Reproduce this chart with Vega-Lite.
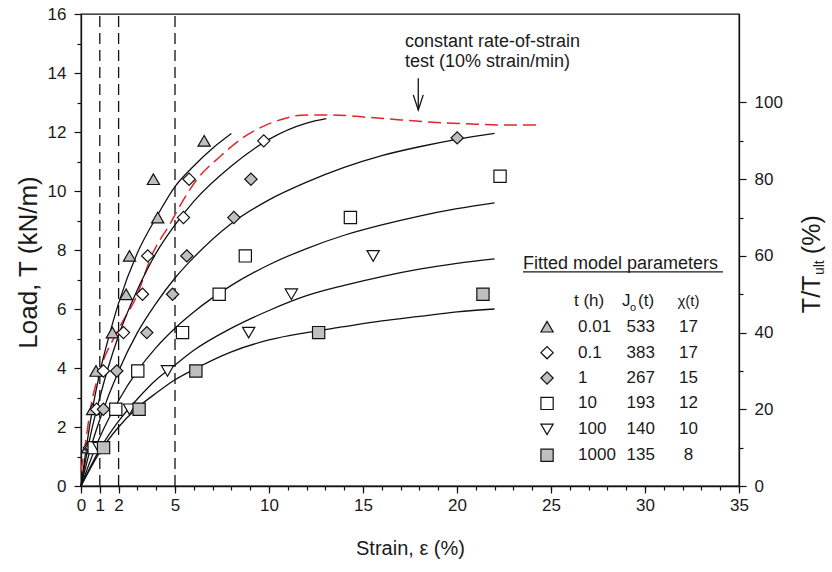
{
  "$schema": "https://vega.github.io/schema/vega-lite/v6.json",
  "width": 658,
  "height": 472,
  "autosize": {"type": "none"},
  "padding": {"left": 81, "top": 14, "right": 93, "bottom": 86},
  "background": "white",
  "config": {
    "font": "Liberation Sans",
    "view": {"stroke": "#111111", "strokeWidth": 1.3},
    "axis": {
      "domainColor": "#111111", "domainWidth": 1.3, "tickColor": "#111111", "tickWidth": 1.2,
      "labelColor": "#1a1a1a", "titleColor": "#1a1a1a", "labelFont": "Liberation Sans", "titleFont": "Liberation Sans",
      "labelFontSize": 17, "titleFontSize": 20, "titleFontWeight": "normal", "grid": false,
      "labelOverlap": false, "labelFlush": false, "labelBound": false
    }
  },
  "datasets": {
    "red": [
      {"x": 0, "y": 0.5}, {"x": 0.2, "y": 1.3}, {"x": 0.5, "y": 2.6}, {"x": 1.0, "y": 3.9}, {"x": 1.9, "y": 5.2},
      {"x": 3.0, "y": 6.5}, {"x": 3.75, "y": 7.8}, {"x": 4.75, "y": 8.9}, {"x": 5.45, "y": 9.7}, {"x": 6.15, "y": 10.38},
      {"x": 7.4, "y": 11.17}, {"x": 8.6, "y": 11.8}, {"x": 9.9, "y": 12.25}, {"x": 10.8, "y": 12.45}, {"x": 11.7, "y": 12.57},
      {"x": 13.4, "y": 12.58}, {"x": 15.2, "y": 12.5}, {"x": 17.0, "y": 12.41}, {"x": 18.7, "y": 12.33}, {"x": 20.5, "y": 12.28},
      {"x": 22.3, "y": 12.24}, {"x": 24.2, "y": 12.24}
    ],
    "curves": [
      {"t": "0.01", "x": 0, "y": 0}, {"t": "0.01", "x": 0.5, "y": 2.2}, {"t": "0.01", "x": 1, "y": 3.85}, {"t": "0.01", "x": 1.5, "y": 5.1},
      {"t": "0.01", "x": 2, "y": 6.2}, {"t": "0.01", "x": 3, "y": 7.9}, {"t": "0.01", "x": 4, "y": 9.1}, {"t": "0.01", "x": 5, "y": 10.15},
      {"t": "0.01", "x": 6, "y": 10.85}, {"t": "0.01", "x": 7, "y": 11.45}, {"t": "0.01", "x": 8, "y": 11.95},
      {"t": "0.1", "x": 0, "y": 0}, {"t": "0.1", "x": 0.5, "y": 1.7}, {"t": "0.1", "x": 1, "y": 3.0}, {"t": "0.1", "x": 2, "y": 5.1},
      {"t": "0.1", "x": 3, "y": 6.65}, {"t": "0.1", "x": 4, "y": 7.9}, {"t": "0.1", "x": 5, "y": 8.85}, {"t": "0.1", "x": 6, "y": 9.65},
      {"t": "0.1", "x": 8, "y": 10.85}, {"t": "0.1", "x": 10, "y": 11.75}, {"t": "0.1", "x": 12, "y": 12.3}, {"t": "0.1", "x": 13.05, "y": 12.45},
      {"t": "1", "x": 0, "y": 0}, {"t": "1", "x": 0.5, "y": 1.25}, {"t": "1", "x": 1, "y": 2.25}, {"t": "1", "x": 2, "y": 3.9},
      {"t": "1", "x": 3, "y": 5.2}, {"t": "1", "x": 4, "y": 6.2}, {"t": "1", "x": 5, "y": 7.05}, {"t": "1", "x": 6, "y": 7.75},
      {"t": "1", "x": 8, "y": 8.9}, {"t": "1", "x": 10, "y": 9.7}, {"t": "1", "x": 12, "y": 10.3}, {"t": "1", "x": 14, "y": 10.8},
      {"t": "1", "x": 16, "y": 11.2}, {"t": "1", "x": 18, "y": 11.5}, {"t": "1", "x": 20, "y": 11.75}, {"t": "1", "x": 22, "y": 11.95},
      {"t": "10", "x": 0, "y": 0}, {"t": "10", "x": 1, "y": 1.65}, {"t": "10", "x": 2, "y": 2.9}, {"t": "10", "x": 3, "y": 3.9},
      {"t": "10", "x": 4, "y": 4.7}, {"t": "10", "x": 5, "y": 5.35}, {"t": "10", "x": 6, "y": 5.9}, {"t": "10", "x": 8, "y": 6.8},
      {"t": "10", "x": 10, "y": 7.5}, {"t": "10", "x": 12, "y": 8.05}, {"t": "10", "x": 14, "y": 8.5}, {"t": "10", "x": 16, "y": 8.85},
      {"t": "10", "x": 18, "y": 9.15}, {"t": "10", "x": 20, "y": 9.4}, {"t": "10", "x": 22, "y": 9.6},
      {"t": "100", "x": 0, "y": 0}, {"t": "100", "x": 1, "y": 1.25}, {"t": "100", "x": 2, "y": 2.2}, {"t": "100", "x": 3, "y": 2.95},
      {"t": "100", "x": 4, "y": 3.6}, {"t": "100", "x": 5, "y": 4.1}, {"t": "100", "x": 6, "y": 4.6}, {"t": "100", "x": 8, "y": 5.35},
      {"t": "100", "x": 10, "y": 5.95}, {"t": "100", "x": 12, "y": 6.45}, {"t": "100", "x": 14, "y": 6.8}, {"t": "100", "x": 16, "y": 7.1},
      {"t": "100", "x": 18, "y": 7.35}, {"t": "100", "x": 20, "y": 7.55}, {"t": "100", "x": 22, "y": 7.7},
      {"t": "1000", "x": 0, "y": 0}, {"t": "1000", "x": 1, "y": 1.15}, {"t": "1000", "x": 2, "y": 2.0}, {"t": "1000", "x": 3, "y": 2.65},
      {"t": "1000", "x": 4, "y": 3.15}, {"t": "1000", "x": 5, "y": 3.6}, {"t": "1000", "x": 6, "y": 3.95}, {"t": "1000", "x": 8, "y": 4.55},
      {"t": "1000", "x": 10, "y": 4.95}, {"t": "1000", "x": 12, "y": 5.2}, {"t": "1000", "x": 14, "y": 5.4}, {"t": "1000", "x": 16, "y": 5.6},
      {"t": "1000", "x": 18, "y": 5.75}, {"t": "1000", "x": 20, "y": 5.9}, {"t": "1000", "x": 22, "y": 6.0}
    ],
    "pts": [
      {"t": "0.01", "x": 0.35, "y": 1.3}, {"t": "0.01", "x": 0.62, "y": 2.6}, {"t": "0.01", "x": 0.8, "y": 3.9}, {"t": "0.01", "x": 1.67, "y": 5.2},
      {"t": "0.01", "x": 2.4, "y": 6.5}, {"t": "0.01", "x": 2.58, "y": 7.8}, {"t": "0.01", "x": 4.08, "y": 9.1}, {"t": "0.01", "x": 3.85, "y": 10.4},
      {"t": "0.01", "x": 6.55, "y": 11.7},
      {"t": "0.1", "x": 0.45, "y": 1.3}, {"t": "0.1", "x": 0.83, "y": 2.6}, {"t": "0.1", "x": 1.19, "y": 3.9}, {"t": "0.1", "x": 2.26, "y": 5.2},
      {"t": "0.1", "x": 3.27, "y": 6.5}, {"t": "0.1", "x": 3.55, "y": 7.8}, {"t": "0.1", "x": 5.45, "y": 9.1}, {"t": "0.1", "x": 5.75, "y": 10.4},
      {"t": "0.1", "x": 9.72, "y": 11.7},
      {"t": "1", "x": 0.55, "y": 1.3}, {"t": "1", "x": 1.19, "y": 2.6}, {"t": "1", "x": 1.9, "y": 3.9}, {"t": "1", "x": 3.5, "y": 5.2},
      {"t": "1", "x": 4.87, "y": 6.5}, {"t": "1", "x": 5.63, "y": 7.8}, {"t": "1", "x": 8.13, "y": 9.1}, {"t": "1", "x": 9.04, "y": 10.4},
      {"t": "1", "x": 20.01, "y": 11.8},
      {"t": "10", "x": 0.7, "y": 1.3}, {"t": "10", "x": 1.85, "y": 2.6}, {"t": "10", "x": 3.02, "y": 3.9}, {"t": "10", "x": 5.4, "y": 5.2},
      {"t": "10", "x": 7.35, "y": 6.5}, {"t": "10", "x": 8.74, "y": 7.8}, {"t": "10", "x": 14.33, "y": 9.1}, {"t": "10", "x": 22.29, "y": 10.5},
      {"t": "100", "x": 0.95, "y": 1.3}, {"t": "100", "x": 2.58, "y": 2.6}, {"t": "100", "x": 4.6, "y": 3.9}, {"t": "100", "x": 8.92, "y": 5.2},
      {"t": "100", "x": 11.19, "y": 6.5}, {"t": "100", "x": 15.54, "y": 7.8},
      {"t": "1000", "x": 1.2, "y": 1.3}, {"t": "1000", "x": 3.09, "y": 2.6}, {"t": "1000", "x": 6.11, "y": 3.9}, {"t": "1000", "x": 12.64, "y": 5.2},
      {"t": "1000", "x": 21.38, "y": 6.5}
    ],
    "leg": [
      {"t": "0.01", "J": "533", "chi": "17", "ly": 5.4},
      {"t": "0.1", "J": "383", "chi": "17", "ly": 4.52},
      {"t": "1", "J": "267", "chi": "15", "ly": 3.66},
      {"t": "10", "J": "193", "chi": "12", "ly": 2.8},
      {"t": "100", "J": "140", "chi": "10", "ly": 1.92},
      {"t": "1000", "J": "135", "chi": "8", "ly": 1.04}
    ],
    "vlines": [{"x": 1}, {"x": 2}, {"x": 5}]
  },
  "layer": [
    {
      "layer": [
        {
          "data": {"name": "vlines"},
          "mark": {"type": "rule", "color": "#111111", "strokeWidth": 1.3, "strokeDash": [11, 6]},
          "encoding": {
            "x": {
              "field": "x", "type": "quantitative",
              "scale": {"domain": [0, 35], "nice": false, "zero": false},
              "axis": {
                "orient": "bottom",
                "values": [0, 1, 2, 5, 10, 15, 20, 25, 30, 35],
                "tickSize": 7,
                "labelPadding": 4,
                "title": "Strain, ε (%)",
                "titleBaseline": "middle",
                "titleY": 62
              }
            },
            "y": {
              "datum": 0, "type": "quantitative",
              "scale": {"domain": [0, 16], "nice": false, "zero": false},
              "axis": {
                "orient": "left",
                "values": [0, 2, 4, 6, 8, 10, 12, 14, 16],
                "tickSize": 7,
                "labelPadding": 8,
                "title": "Load, T (kN/m)",
                "titleFontSize": 26,
                "titleAngle": 270,
                "titleBaseline": "middle",
                "titleX": -53,
                "titleY": 248
              }
            },
            "y2": {"datum": 16}
          }
        },
        {
          "data": {"name": "red"},
          "mark": {"type": "line", "color": "#e3242b", "strokeWidth": 1.5, "strokeDash": [13, 6], "interpolate": "monotone"},
          "encoding": {
            "x": {"field": "x", "type": "quantitative"},
            "y": {"field": "y", "type": "quantitative"}
          }
        },
        {
          "data": {"name": "curves"},
          "mark": {"type": "line", "color": "#111111", "strokeWidth": 1.3, "interpolate": "monotone"},
          "encoding": {
            "x": {"field": "x", "type": "quantitative"},
            "y": {"field": "y", "type": "quantitative"},
            "detail": {"field": "t", "type": "nominal"}
          }
        },
        {
          "data": {"name": "pts"},
          "mark": {"type": "point", "filled": true, "stroke": "#111111", "strokeWidth": 1.2, "size": 150, "opacity": 1},
          "encoding": {
            "x": {"field": "x", "type": "quantitative"},
            "y": {"field": "y", "type": "quantitative"},
            "shape": {"field": "t", "type": "nominal", "legend": null,
              "scale": {"domain": ["0.01","0.1","1","10","100","1000"], "range": ["triangle-up","diamond","diamond","square","triangle-down","square"]}},
            "fill": {"field": "t", "type": "nominal", "legend": null,
              "scale": {"domain": ["0.01","0.1","1","10","100","1000"], "range": ["#bfbfbf","#ffffff","#bfbfbf","#ffffff","#ffffff","#bfbfbf"]}}
          }
        },
        {
          "data": {"name": "leg"},
          "mark": {"type": "point", "filled": true, "stroke": "#111111", "strokeWidth": 1.2, "size": 150, "opacity": 1},
          "encoding": {
            "x": {"datum": 24.79, "type": "quantitative"},
            "y": {"field": "ly", "type": "quantitative"},
            "shape": {"field": "t", "type": "nominal", "legend": null},
            "fill": {"field": "t", "type": "nominal", "legend": null}
          }
        },
        {
          "data": {"name": "leg"},
          "mark": {"type": "text", "align": "left", "baseline": "middle", "fontSize": 17, "color": "#1a1a1a"},
          "encoding": {
            "x": {"datum": 26.44, "type": "quantitative"},
            "y": {"field": "ly", "type": "quantitative"},
            "text": {"field": "t"}
          }
        },
        {
          "data": {"name": "leg"},
          "mark": {"type": "text", "align": "center", "baseline": "middle", "fontSize": 17, "color": "#1a1a1a"},
          "encoding": {
            "x": {"datum": 29.77, "type": "quantitative"},
            "y": {"field": "ly", "type": "quantitative"},
            "text": {"field": "J"}
          }
        },
        {
          "data": {"name": "leg"},
          "mark": {"type": "text", "align": "center", "baseline": "middle", "fontSize": 17, "color": "#1a1a1a"},
          "encoding": {
            "x": {"datum": 32.31, "type": "quantitative"},
            "y": {"field": "ly", "type": "quantitative"},
            "text": {"field": "chi"}
          }
        },
        {
          "data": {"values": [{}]},
          "mark": {"type": "text", "align": "left", "baseline": "middle", "fontSize": 18, "color": "#1a1a1a"},
          "encoding": {
            "x": {"datum": 23.51, "type": "quantitative"},
            "y": {"datum": 7.54, "type": "quantitative"},
            "text": {"value": "Fitted model parameters"}
          }
        },
        {
          "data": {"values": [{}]},
          "mark": {"type": "rule", "color": "#1a1a1a", "strokeWidth": 1.2},
          "encoding": {
            "x": {"datum": 23.51, "type": "quantitative"},
            "x2": {"datum": 34.15},
            "y": {"datum": 7.26, "type": "quantitative"}
          }
        },
        {
          "data": {"values": [{}]},
          "mark": {"type": "text", "align": "left", "baseline": "middle", "fontSize": 17, "color": "#1a1a1a"},
          "encoding": {
            "x": {"datum": 26.22, "type": "quantitative"},
            "y": {"datum": 6.26, "type": "quantitative"},
            "text": {"value": "t (h)"}
          }
        },
        {
          "data": {"values": [{}]},
          "mark": {"type": "text", "align": "left", "baseline": "middle", "fontSize": 17, "color": "#1a1a1a"},
          "encoding": {
            "x": {"datum": 28.78, "type": "quantitative"},
            "y": {"datum": 6.26, "type": "quantitative"},
            "text": {"value": "J"}
          }
        },
        {
          "data": {"values": [{}]},
          "mark": {"type": "text", "align": "left", "baseline": "middle", "fontSize": 11, "color": "#1a1a1a"},
          "encoding": {
            "x": {"datum": 29.2, "type": "quantitative"},
            "y": {"datum": 6.05, "type": "quantitative"},
            "text": {"value": "o"}
          }
        },
        {
          "data": {"values": [{}]},
          "mark": {"type": "text", "align": "left", "baseline": "middle", "fontSize": 17, "color": "#1a1a1a"},
          "encoding": {
            "x": {"datum": 29.63, "type": "quantitative"},
            "y": {"datum": 6.26, "type": "quantitative"},
            "text": {"value": "(t)"}
          }
        },
        {
          "data": {"values": [{}]},
          "mark": {"type": "text", "align": "center", "baseline": "middle", "fontSize": 15, "color": "#1a1a1a"},
          "encoding": {
            "x": {"datum": 32.31, "type": "quantitative"},
            "y": {"datum": 6.26, "type": "quantitative"},
            "text": {"value": "χ(t)"}
          }
        },
        {
          "data": {"values": [{}]},
          "mark": {"type": "text", "align": "left", "baseline": "middle", "fontSize": 18, "color": "#1a1a1a"},
          "encoding": {
            "x": {"datum": 17.23, "type": "quantitative"},
            "y": {"datum": 15.05, "type": "quantitative"},
            "text": {"value": "constant rate-of-strain"}
          }
        },
        {
          "data": {"values": [{}]},
          "mark": {"type": "text", "align": "left", "baseline": "middle", "fontSize": 18, "color": "#1a1a1a"},
          "encoding": {
            "x": {"datum": 17.23, "type": "quantitative"},
            "y": {"datum": 14.37, "type": "quantitative"},
            "text": {"value": "test (10% strain/min)"}
          }
        },
        {
          "data": {"values": [{}]},
          "mark": {"type": "rule", "color": "#111111", "strokeWidth": 1.3},
          "encoding": {
            "x": {"datum": 17.94, "type": "quantitative"},
            "y": {"datum": 13.82, "type": "quantitative"},
            "y2": {"datum": 12.75}
          }
        },
        {
          "data": {"values": [{}]},
          "mark": {"type": "point", "shape": "M-1,-3L0,0L1,-3", "size": 100, "filled": false, "stroke": "#111111", "strokeWidth": 1.3, "opacity": 1},
          "encoding": {
            "x": {"datum": 17.94, "type": "quantitative"},
            "y": {"datum": 12.75, "type": "quantitative"}
          }
        },
        {
          "data": {"values": [{}]},
          "mark": {"type": "text", "align": "left", "baseline": "middle", "fontSize": 25, "angle": 270, "color": "#1a1a1a"},
          "encoding": {
            "x": {"datum": 38.88, "type": "quantitative"},
            "y": {"datum": 5.86, "type": "quantitative"},
            "text": {"value": "T/T"}
          }
        },
        {
          "data": {"values": [{}]},
          "mark": {"type": "text", "align": "left", "baseline": "middle", "fontSize": 14, "angle": 270, "color": "#1a1a1a"},
          "encoding": {
            "x": {"datum": 39.31, "type": "quantitative"},
            "y": {"datum": 7.15, "type": "quantitative"},
            "text": {"value": "ult"}
          }
        },
        {
          "data": {"values": [{}]},
          "mark": {"type": "text", "align": "left", "baseline": "middle", "fontSize": 25, "angle": 270, "color": "#1a1a1a"},
          "encoding": {
            "x": {"datum": 38.88, "type": "quantitative"},
            "y": {"datum": 7.86, "type": "quantitative"},
            "text": {"value": "(%)"}
          }
        }
      ]
    },
    {
      "data": {"values": [{}]},
      "mark": {"type": "point", "opacity": 0},
      "encoding": {
        "x": {
          "datum": 0, "type": "quantitative",
          "axis": {"orient": "bottom", "values": [0,1,2,3,4,5,6,7,8,9,10,11,12,13,14,15,16,17,18,19,20,21,22,23,24,25,26,27,28,29,30,31,32,33,34,35],
            "labels": false, "tickSize": 4, "domain": false, "title": null}
        },
        "y": {
          "datum": 0, "type": "quantitative",
          "scale": {"domain": [0, 16], "nice": false, "zero": false},
          "axis": {"orient": "left", "values": [1, 3, 5, 7, 9, 11, 13, 15], "labels": false, "tickSize": 4, "domain": false, "title": null}
        }
      }
    },
    {
      "data": {"values": [{"pct": 0}, {"pct": 100}]},
      "mark": {"type": "point", "opacity": 0},
      "encoding": {
        "y": {
          "field": "pct", "type": "quantitative",
          "scale": {"domain": [0, 123.0769], "nice": false, "zero": false},
          "axis": {"orient": "right", "values": [0, 20, 40, 60, 80, 100], "tickSize": 7, "labelPadding": 8, "title": null}
        }
      }
    },
    {
      "data": {"values": [{}]},
      "mark": {"type": "point", "opacity": 0},
      "encoding": {
        "y": {
          "datum": 0, "type": "quantitative",
          "scale": {"domain": [0, 123.0769], "nice": false, "zero": false},
          "axis": {"orient": "right", "values": [10, 30, 50, 70, 90], "labels": false, "tickSize": 4, "domain": false, "title": null}
        }
      }
    }
  ],
  "resolve": {"scale": {"y": "independent"}, "axis": {"x": "independent"}}
}
